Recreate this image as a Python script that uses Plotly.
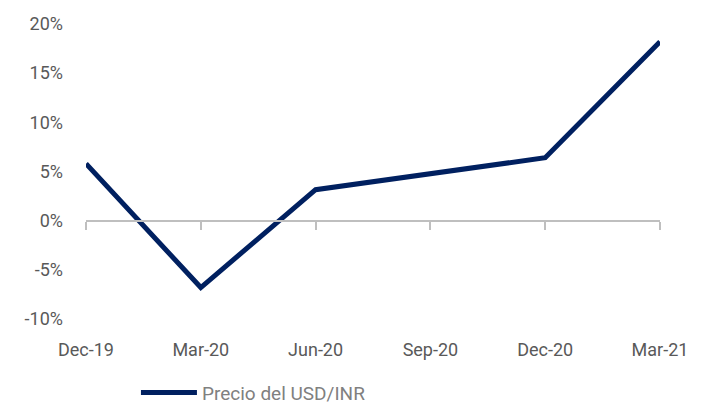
import plotly.graph_objects as go

categories = ["Dec-19", "Mar-20", "Jun-20", "Sep-20", "Dec-20", "Mar-21"]
values = [5.8, -6.8, 3.15, 4.8, 6.4, 18.2]
y_ticks = [-10, -5, 0, 5, 10, 15, 20]
y_tick_labels = [f"{v}%" for v in y_ticks]
series_name = "Precio del USD/INR"

FONT = "Roboto, Liberation Sans, sans-serif"
ymin, ymax = -10, 20
xs = list(range(len(categories)))

fig = go.Figure()
fig.add_trace(go.Scatter(
    x=xs, y=values, mode="lines", name=series_name,
    line=dict(color="#002060", width=5),
    hoverinfo="skip",
))
# invisible trace to host the zero-crossing category axis
fig.add_trace(go.Scatter(
    x=xs, y=[0] * len(xs), xaxis="x2", mode="lines",
    line=dict(width=0), showlegend=False, hoverinfo="skip",
))

fig.update_layout(
    width=702, height=397,
    margin=dict(l=78, r=50, t=16, b=86, autoexpand=False),
    paper_bgcolor="white", plot_bgcolor="white",
    font=dict(family=FONT, size=18, color="#595959"),
    showlegend=True,
    legend=dict(orientation="h", x=0.087, xanchor="left", y=-0.25, yanchor="middle",
                font=dict(size=19, color="#808080"), itemwidth=56),
    xaxis=dict(
        range=[0, len(categories) - 1], tickmode="array", tickvals=xs,
        ticktext=categories, showline=False, showgrid=False, zeroline=False,
        ticks="", ticklabelstandoff=18,
    ),
    xaxis2=dict(
        overlaying="x", matches="x", anchor="free",
        position=(0 - ymin) / (ymax - ymin),
        range=[0, len(categories) - 1], tickmode="array", tickvals=xs,
        showticklabels=False, showline=True, linecolor="#bfbfbf", linewidth=2,
        ticks="outside", ticklen=8, tickcolor="#bfbfbf", tickwidth=2,
        showgrid=False, zeroline=False,
    ),
    yaxis=dict(
        range=[ymin, ymax], tickmode="array", tickvals=y_ticks,
        ticktext=y_tick_labels, showgrid=False, zeroline=False, showline=False,
        ticks="", ticklabelstandoff=22,
    ),
)

fig.write_html("out.html")
